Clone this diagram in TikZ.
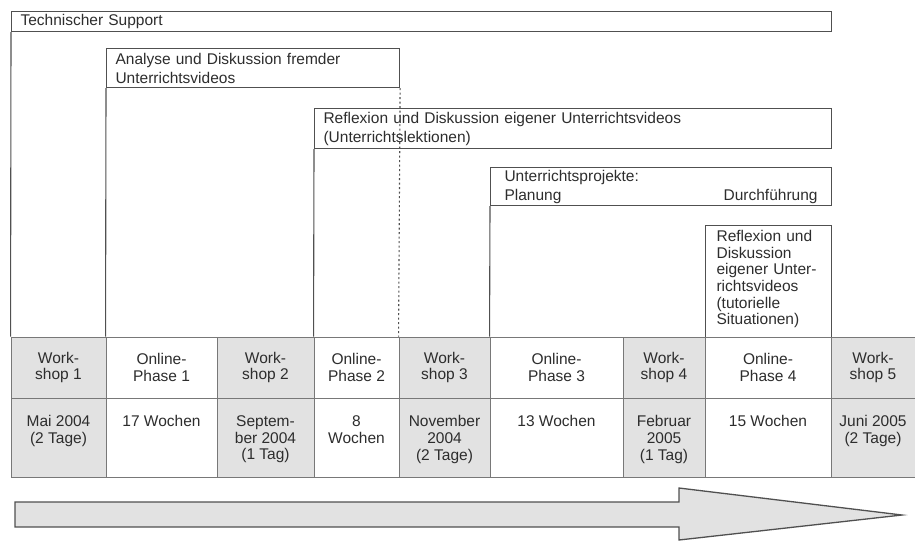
\documentclass[tikz,border=0pt]{standalone}
\usepackage{fontspec}
\setmainfont{Liberation Sans}
\usepackage{tikz}
\usetikzlibrary{positioning}
\usepackage{xcolor}
\definecolor{tlline}{RGB}{80,80,80}
\definecolor{tlgrid}{RGB}{120,120,120}
\definecolor{tlgray}{RGB}{226,226,226}
\definecolor{tltext}{RGB}{45,45,45}
\tikzstyle{phasebox} = [rectangle, anchor=north west, draw=tlline, line width=1.1pt, inner xsep=9pt, inner ysep=1pt, align=left, text=tltext, font=\fontsize{15.5}{19}\selectfont]
\tikzstyle{cell} = [rectangle, draw=tlgrid, line width=0.9pt, inner sep=0pt, text centered, align=center, text=tltext]
\tikzstyle{workshop} = [cell, fill=tlgray]
\tikzstyle{online} = [cell, fill=white]
\tikzstyle{celltext} = [inner sep=0pt, align=center, text=tltext]
\tikzstyle{boxline} = [draw=tlline, line width=1.1pt]

\begin{document}
\begin{tikzpicture}[x=1pt, y=-1pt, font=\fontsize{15.5}{16.6}\selectfont]
\useasboundingbox (0,0) rectangle (915,542);

% oberer Teil: Angebote
\node[phasebox, minimum width=820pt, minimum height=20pt, text width=802pt] (support) at (11,11) {Technischer Support};
\node[phasebox, minimum width=293pt, minimum height=39pt, text width=275pt] (analyse) at (106,48) {Analyse und Diskussion fremder\\Unterrichtsvideos};
\node[phasebox, minimum width=517pt, minimum height=40pt, text width=499pt] (reflexion) at (314,108) {Reflexion und Diskussion eigener Unterrichtsvideos\\(Unterrichtslektionen)};
\node[phasebox, minimum width=341pt, minimum height=38pt, text width=313pt, inner xsep=14pt] (projekte) at (490,167) {Unterrichtsprojekte:\\Planung\hfill Durchführung};
\node[phasebox, minimum width=126pt, minimum height=112pt, text width=104pt, inner xsep=11pt, inner ysep=5pt, font=\fontsize{15.5}{16.6}\selectfont] (tutor) at (705,225) {\vbox to 104pt{\raggedright Reflexion und\\Diskussion\\eigener Unter-\\richtsvideos\\(tutorielle\\Situationen)\vfil}};

% Tabelle: Workshops und Online-Phasen
\node[workshop, minimum width=95pt, minimum height=61pt] (ws1) at (58.5,367.5) {Work-\\shop 1};
\node[online, minimum width=111pt, minimum height=61pt] (op1) at (161.5,367.5) {Online-\\Phase 1};
\node[workshop, minimum width=97pt, minimum height=61pt] (ws2) at (265.5,367.5) {Work-\\shop 2};
\node[online, minimum width=85pt, minimum height=61pt] (op2) at (356.5,367.5) {Online-\\Phase 2};
\node[workshop, minimum width=91pt, minimum height=61pt] (ws3) at (444.5,367.5) {Work-\\shop 3};
\node[online, minimum width=133pt, minimum height=61pt] (op3) at (556.5,367.5) {Online-\\Phase 3};
\node[workshop, minimum width=82pt, minimum height=61pt] (ws4) at (664,367.5) {Work-\\shop 4};
\node[online, minimum width=126pt, minimum height=61pt] (op4) at (768,367.5) {Online-\\Phase 4};
\node[workshop, minimum width=84pt, minimum height=61pt] (ws5) at (873,367.5) {Work-\\shop 5};

\node[workshop, minimum width=95pt, minimum height=79pt] (d1) at (58.5,437.5) {};
\node[online, minimum width=111pt, minimum height=79pt] (d2) at (161.5,437.5) {};
\node[workshop, minimum width=97pt, minimum height=79pt] (d3) at (265.5,437.5) {};
\node[online, minimum width=85pt, minimum height=79pt] (d4) at (356.5,437.5) {};
\node[workshop, minimum width=91pt, minimum height=79pt] (d5) at (444.5,437.5) {};
\node[online, minimum width=133pt, minimum height=79pt] (d6) at (556.5,437.5) {};
\node[workshop, minimum width=82pt, minimum height=79pt] (d7) at (664,437.5) {};
\node[online, minimum width=126pt, minimum height=79pt] (d8) at (768,437.5) {};
\node[workshop, minimum width=84pt, minimum height=79pt] (d9) at (873,437.5) {};

\node[celltext, below=18pt of d1.north] {Mai 2004\\(2 Tage)};
\node[celltext, below=18pt of d2.north] {17 Wochen};
\node[celltext, below=18pt of d3.north] {Septem-\\ber 2004\\(1 Tag)};
\node[celltext, below=18pt of d4.north] {8\\Wochen};
\node[celltext, below=18pt of d5.north] {November\\2004\\(2 Tage)};
\node[celltext, below=18pt of d6.north] {13 Wochen};
\node[celltext, below=18pt of d7.north] {Februar\\2005\\(1 Tag)};
\node[celltext, below=18pt of d8.north] {15 Wochen};
\node[celltext, below=18pt of d9.north] {Juni 2005\\(2 Tage)};

% Verbindungen zur Tabelle
\draw[boxline] (support.south west) -- (ws1.north west);
\draw[boxline] (analyse.south west) -- (op1.north west);
\draw[boxline, dash pattern=on 2pt off 2.5pt] (analyse.south east) -- (ws3.north west);
\draw[boxline] (reflexion.south west) -- (op2.north west);
\draw[boxline] (projekte.south west) -- (op3.north west);

% Zeitpfeil
\draw[draw=tlline, line width=1.3pt, fill=tlgray] (15,502) -- (679,502) -- (679,488) -- (902,515) -- (679,540) -- (679,527) -- (15,527) -- cycle;
\end{tikzpicture}
\end{document}
